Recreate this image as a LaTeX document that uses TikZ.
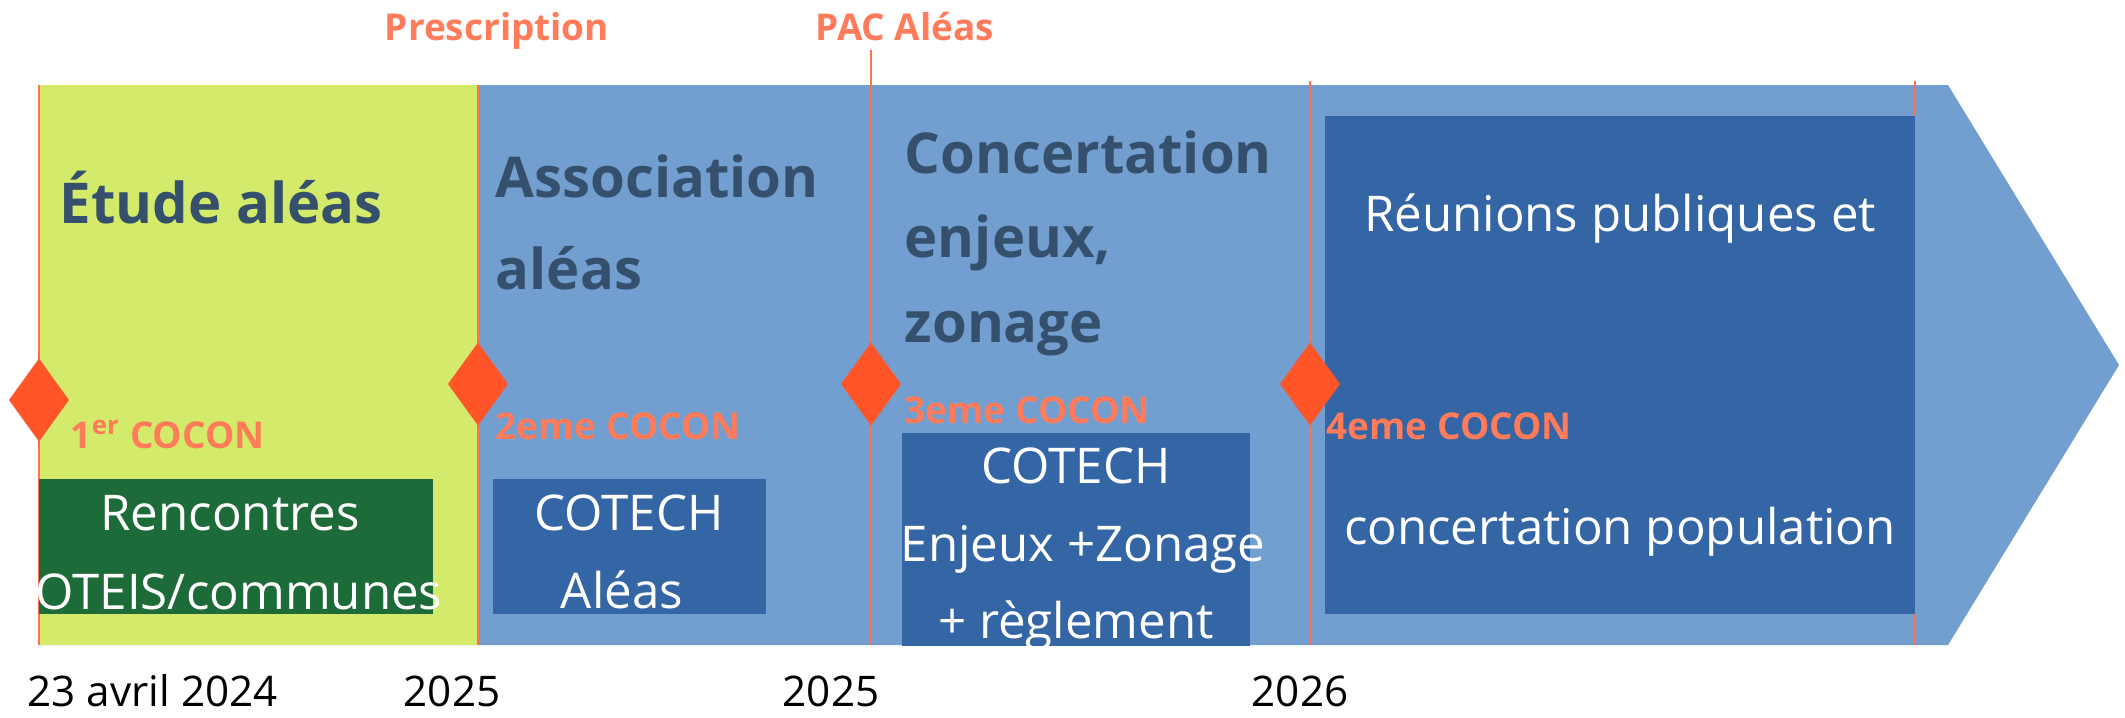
\documentclass[tikz,border=0pt]{standalone}
\usepackage{fontspec}
\setmainfont{Open Sans}

\definecolor{lime}{HTML}{D4EA6B}
\definecolor{fleche}{HTML}{729FCF}
\definecolor{boitebleu}{HTML}{3465A4}
\definecolor{boitevert}{HTML}{1E6B3A}
\definecolor{ardoise}{HTML}{35506C}
\definecolor{saumon}{HTML}{FF7B5A}
\definecolor{losange}{HTML}{FF5529}
\definecolor{trait}{HTML}{FF7050}

\tikzset{
  titre/.style={anchor=base west,inner sep=0,text=ardoise,font=\bfseries\fontsize{16}{20}\selectfont},
  cocon/.style={anchor=base west,inner sep=0,text=saumon,font=\bfseries\fontsize{10.5}{12}\selectfont},
  blanc/.style={anchor=base,inner sep=0,text=white,font=\fontsize{14}{17}\selectfont},
  date/.style={anchor=base,inner sep=0,font=\fontsize{12}{14}\selectfont},
  jalon/.style={draw=trait,line width=0.4pt}
}

\begin{document}
\begin{tikzpicture}[x=0.01cm,y=-0.01cm]
    \useasboundingbox (0,0) rectangle (2125,717);
    % frise
    \fill[fleche] (39,85) -- (1948,85) -- (2119,365) -- (1948,645) -- (39,645) -- cycle;
    \fill[lime] (39,85) rectangle (478,645);
    \foreach \x/\y in {39/85,478/85,871/50,1310/81,1915/81}
      \draw[jalon] (\x,\y) -- (\x,645);
    % boites
    \fill[boitevert] (39,479) rectangle (433,614);
    \fill[boitebleu] (493,479) rectangle (766,614);
    \fill[boitebleu] (1325,116) rectangle (1915,614);
    \begin{scope}
      \clip (0,0) rectangle (2125,645);
      \fill[boitebleu] (902,433) rectangle (1250,660);
      \node[blanc] (cotech2) at (1076,483) {COTECH};
      \node[blanc] (enjeux) at (1083,561) {Enjeux +Zonage};
      \node[blanc] (reglement) at (1076,638) {+ règlement};
    \end{scope}
    % losanges
    \foreach \x/\y in {39/400,478/384,871/384,1310/384}
      \fill[losange] (\x-30,\y) -- ++(30,-41.5) -- ++(30,41.5) -- ++(-30,41.5) -- cycle;
    % textes
    \node[cocon,anchor=base] (prescription) at (497,40) {Prescription};
    \node[cocon,anchor=base] (pac) at (905,40) {PAC Aléas};
    \node[titre] (etude) at (59,223) {Étude aléas};
    \node[titre] (asso1) at (495,197) {Association};
    \node[titre] (asso2) at (495,289) {aléas};
    \node[titre] (conc1) at (904,173) {Concertation};
    \node[titre] (conc2) at (904,257) {enjeux,};
    \node[titre] (conc3) at (904,342) {zonage};
    \node[cocon] (cocon1) at (70,448) {1\textsuperscript{er} COCON};
    \node[cocon] (cocon2) at (495,439) {2eme COCON};
    \node[cocon] (cocon3) at (904,423) {3eme COCON};
    \node[cocon] (cocon4) at (1326,439) {4eme COCON};
    \node[blanc] (rencontres) at (230,530) {Rencontres};
    \node[blanc] (oteis) at (239,609) {OTEIS/communes};
    \node[blanc] (cotech1) at (629,530) {COTECH};
    \node[blanc] (aleas) at (622,608) {Aléas};
    \node[blanc] (reunions) at (1620,231) {Réunions publiques et};
    \node[blanc] (population) at (1620,544) {concertation population};
    \node[date,anchor=base west] (d2024) at (27,706) {23 avril 2024};
    \node[date] (d2025a) at (452,706) {2025};
    \node[date] (d2025b) at (831,706) {2025};
    \node[date] (d2026) at (1300,706) {2026};
\end{tikzpicture}
\end{document}
